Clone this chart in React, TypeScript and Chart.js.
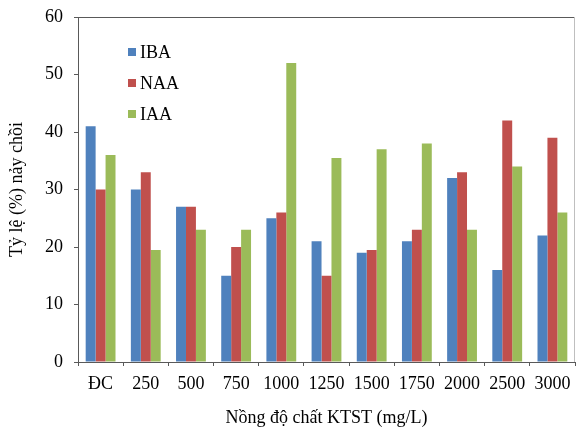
import React, { useEffect, useRef } from "react";
import { Chart, registerables } from "chart.js";

Chart.register(...registerables);

const categories = ["ĐC", "250", "500", "750", "1000", "1250", "1500", "1750", "2000", "2500", "3000"];
const ibaValues = [41, 30, 27, 15, 25, 21, 19, 21, 32, 16, 22];
const naaValues = [30, 33, 27, 20, 26, 15, 19.5, 23, 33, 42, 39];
const iaaValues = [36, 19.5, 23, 23, 52, 35.5, 37, 38, 23, 34, 26];
const seriesNames = ["IBA", "NAA", "IAA"];
const seriesColors = ["#4F81BD", "#C0504D", "#9BBB59"];

const FONT = "'Liberation Serif', 'Times New Roman', serif";

// Frame (top/right) around the plot area plus an in-plot legend at top-left
const framePlugin = {
  id: "frameAndLegend",
  afterDatasetsDraw(chart: any) {
    const { ctx, chartArea } = chart;
    ctx.save();
    ctx.strokeStyle = "#595959";
    ctx.lineWidth = 1;
    ctx.beginPath();
    ctx.moveTo(chartArea.left, chartArea.top + 0.5);
    ctx.lineTo(chartArea.right, chartArea.top + 0.5);
    ctx.stroke();
    ctx.strokeStyle = "#BFBFBF";
    ctx.beginPath();
    ctx.moveTo(chartArea.right - 0.5, chartArea.top);
    ctx.lineTo(chartArea.right - 0.5, chartArea.bottom);
    ctx.stroke();

    const x0 = chartArea.left + 50;
    const y0 = chartArea.top + 35;
    ctx.font = `18px ${FONT}`;
    ctx.textBaseline = "middle";
    ctx.textAlign = "left";
    chart.data.datasets.forEach((ds: any, i: number) => {
      const y = y0 + i * 31;
      ctx.fillStyle = ds.backgroundColor;
      ctx.fillRect(x0, y - 4, 8, 8);
      ctx.fillStyle = "#000";
      ctx.fillText(ds.label, x0 + 12, y + 1);
    });
    ctx.restore();
  },
};

export default function App() {
  const ref = useRef<HTMLCanvasElement>(null);

  useEffect(() => {
    document.body.style.margin = "0";
    const values = [ibaValues, naaValues, iaaValues];
    const chart = new Chart(ref.current as HTMLCanvasElement, {
      type: "bar",
      data: {
        labels: categories,
        datasets: values.map((v, i) => ({
          label: seriesNames[i],
          data: v,
          backgroundColor: seriesColors[i],
          borderWidth: 0,
          categoryPercentage: 0.66,
          barPercentage: 1,
        })),
      },
      options: {
        animation: false,
        responsive: false,
        devicePixelRatio: 1,
        layout: { padding: { top: 17, right: 1, left: 0, bottom: 0 } },
        plugins: {
          legend: { display: false },
          tooltip: { enabled: false },
        },
        scales: {
          x: {
            grid: {
              display: true,
              drawOnChartArea: false,
              drawTicks: true,
              tickLength: 4,
              color: "#595959",
              offset: true,
            },
            border: { color: "#595959", width: 1 },
            ticks: {
              color: "#000",
              font: { family: FONT, size: 18 },
              padding: 7,
              maxRotation: 0,
              autoSkip: false,
            },
            title: {
              display: true,
              text: "Nồng độ chất KTST (mg/L)",
              color: "#000",
              font: { family: FONT, size: 18 },
              padding: { top: 3, bottom: 0 },
            },
            afterFit(scale: any) {
              scale.height = 67;
              scale.paddingLeft = 0;
              scale.paddingRight = 0;
            },
          },
          y: {
            min: 0,
            max: 60,
            grid: {
              display: true,
              drawOnChartArea: false,
              drawTicks: true,
              tickLength: 4,
              color: "#595959",
            },
            border: { color: "#595959", width: 1 },
            ticks: {
              stepSize: 10,
              color: "#000",
              font: { family: FONT, size: 18 },
              padding: 11,
            },
            title: {
              display: true,
              text: "Tỷ lệ (%) nảy chồi",
              color: "#000",
              font: { family: FONT, size: 18 },
              padding: { top: 6, bottom: 0 },
            },
            afterFit(scale: any) {
              scale.width = 78;
              scale.paddingTop = 0;
              scale.paddingBottom = 0;
            },
          },
        },
      },
      plugins: [framePlugin],
    });
    return () => chart.destroy();
  }, []);

  return (
    <div style={{ width: 576, height: 429, position: "relative" }}>
      <canvas ref={ref} width={576} height={429} style={{ display: "block" }} />
    </div>
  );
}
